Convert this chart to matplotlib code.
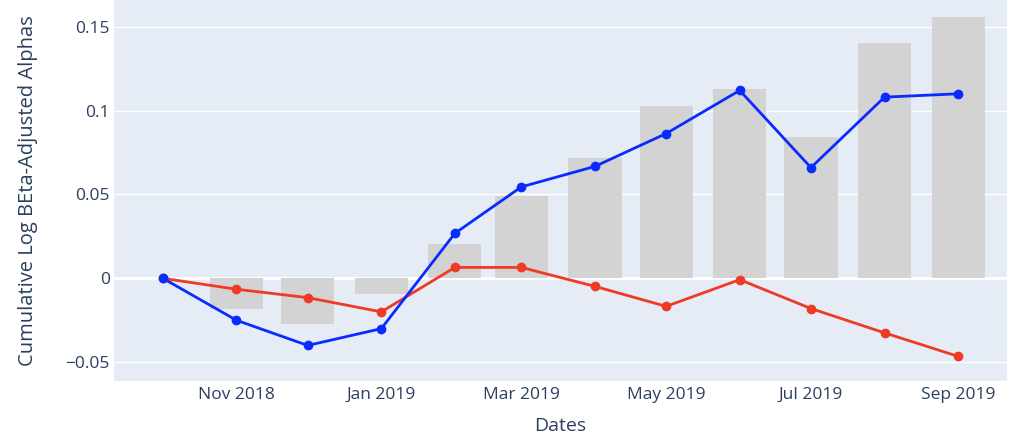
import matplotlib
matplotlib.use("Agg")
import matplotlib.pyplot as plt
import matplotlib.dates as mdates
import numpy as np
import pandas as pd
from matplotlib.ticker import FixedLocator, FuncFormatter

dates = pd.date_range("2018-10-01", "2019-09-01", freq="MS")
blue_vals = [0.0, -0.025, -0.040, -0.030, 0.0268, 0.0545, 0.0667, 0.0863, 0.112, 0.066, 0.108, 0.110]
red_vals = [0.0, -0.0065, -0.0115, -0.020, 0.0065, 0.0065, -0.0048, -0.0167, -0.0008, -0.018, -0.0325, -0.0465]
bar_vals = [0.0, -0.018, -0.0275, -0.0095, 0.0205, 0.049, 0.0715, 0.1027, 0.113, 0.0845, 0.1405, 0.156]
y_ticks = [-0.05, 0, 0.05, 0.1, 0.15]
y_tick_labels = ["\u22120.05", "0", "0.05", "0.1", "0.15"]
x_tick_dates = pd.to_datetime(["2018-11-01", "2019-01-01", "2019-03-01", "2019-05-01", "2019-07-01", "2019-09-01"])
x_tick_labels = ["Nov 2018", "Jan 2019", "Mar 2019", "May 2019", "Jul 2019", "Sep 2019"]

plt.rcParams['font.family'] = ['Open Sans', 'DejaVu Sans']
txt = "#2a3f5f"

fig = plt.figure(figsize=(10.14, 4.36), dpi=100)
ax = fig.add_axes([114/1014, 55/436, (1007-114)/1014, 381/436])
ax.set_facecolor("#E5ECF6")
for s in ax.spines.values():
    s.set_visible(False)

xd = mdates.date2num(dates)
ax.bar(xd, bar_vals, width=22.4, color="#D3D3D3", zorder=2)
ax.plot(xd, red_vals, color="#EF3A25", lw=2, marker="o", ms=6, zorder=3)
ax.plot(xd, blue_vals, color="#0A2BFF", lw=2, marker="o", ms=6, zorder=4)

ax.set_xlim(xd[0] - 20.6, xd[-1] + 20.6)
ax.set_ylim(-0.0612, 0.1659)

ax.yaxis.set_major_locator(FixedLocator(y_ticks))
ax.set_yticklabels(y_tick_labels)
ax.set_xticks(mdates.date2num(x_tick_dates))
ax.set_xticklabels(x_tick_labels)
ax.tick_params(axis="both", length=0, labelsize=12.5, labelcolor=txt)
ax.tick_params(axis="y", pad=3)
ax.tick_params(axis="x", pad=4)
ax.grid(axis="y", color="white", lw=1, zorder=1)
ax.axhline(0, color="white", lw=2, zorder=1)
ax.set_axisbelow(True)

ax.set_xlabel("Dates", fontsize=14, color=txt, labelpad=10.5)
ax.set_ylabel("Cumulative Log BEta-Adjusted Alphas", fontsize=14.5, color=txt, labelpad=20)

fig.savefig("out.png", dpi=100)
